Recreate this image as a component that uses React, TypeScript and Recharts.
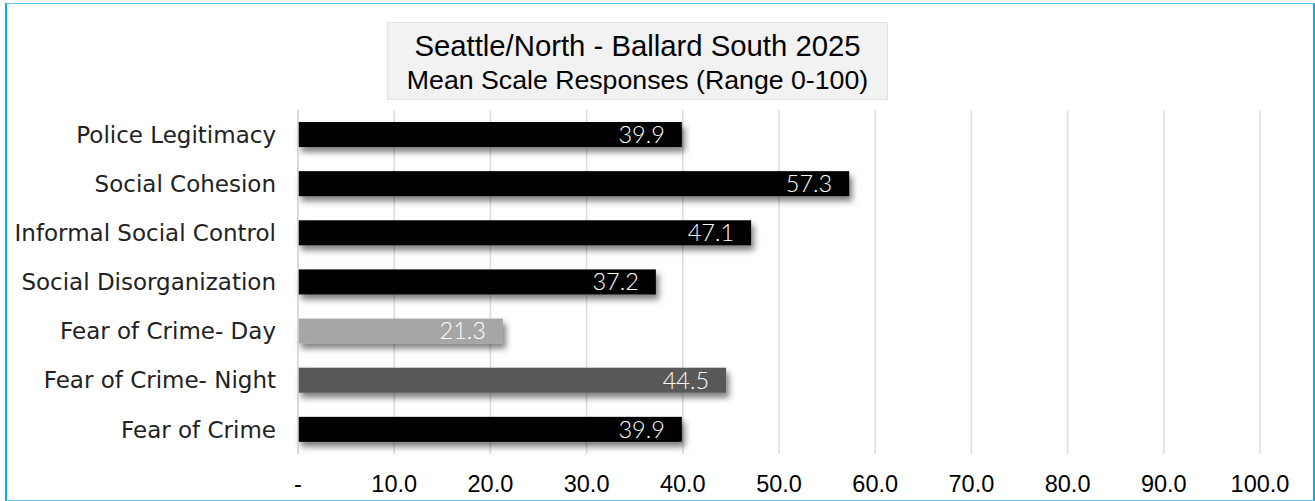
import { Bar, BarChart, CartesianGrid, Cell, LabelList, XAxis, YAxis } from "recharts";

const categories = [
  "Police Legitimacy",
  "Social Cohesion",
  "Informal Social Control",
  "Social Disorganization",
  "Fear of Crime- Day",
  "Fear of Crime- Night",
  "Fear of Crime",
];
const values = [39.9, 57.3, 47.1, 37.2, 21.3, 44.5, 39.9];
const barColors = ["#000000", "#000000", "#000000", "#000000", "#a6a6a6", "#595959", "#000000"];
const xTicks = [0, 10, 20, 30, 40, 50, 60, 70, 80, 90, 100];

const data = categories.map((name, i) => ({ name, value: values[i] }));

const W = 1315;
const H = 501;

function ShadowBar(props: any) {
  const { x, y, width, height, fill } = props;
  return <rect x={x} y={y} width={width} height={height} fill={fill} filter="url(#barShadow)" />;
}

export default function App() {
  return (
    <div style={{ position: "absolute", left: 0, top: 0, width: W, height: H, background: "#fff" }}>
      <BarChart
        width={W}
        height={H}
        data={data}
        layout="vertical"
        margin={{ top: 110, right: 55, bottom: 0, left: 0 }}
        barSize={25}
      >
        <defs>
          <filter id="barShadow" x="-5%" y="-30%" width="115%" height="190%">
            <feDropShadow dx="3" dy="5" stdDeviation="3" floodColor="#000" floodOpacity="0.5" />
          </filter>
        </defs>
        <CartesianGrid horizontal={false} stroke="#dcdcdc" strokeWidth={1.5} />
        <XAxis
          type="number"
          domain={[0, 100]}
          ticks={xTicks}
          height={47}
          axisLine={false}
          tickLine={false}
          tickMargin={15}
          tickFormatter={(v: number) => (v === 0 ? "-" : v.toFixed(1))}
          tick={{ fontSize: 23.5, fill: "#000", fontFamily: "Liberation Sans, Arial, sans-serif" }}
          interval={0}
        />
        <YAxis
          type="category"
          dataKey="name"
          width={298}
          axisLine={{ stroke: "#cfd8ea", strokeWidth: 1.5 }}
          tickLine={false}
          tickMargin={16}
          tick={{ fontSize: 23, fill: "#222", fontFamily: "DejaVu Sans, sans-serif" }}
          interval={0}
        />
        <Bar dataKey="value" isAnimationActive={false} shape={ShadowBar}>
          {data.map((d, i) => (
            <Cell key={d.name} fill={barColors[i]} />
          ))}
          <LabelList
            dataKey="value"
            position="insideRight"
            offset={17}
            formatter={(v: number) => v.toFixed(1)}
            style={{ fill: "#fff", fontSize: 23.5, fontFamily: "Lato, sans-serif", fontWeight: 300 }}
          />
        </Bar>
      </BarChart>

      <div
        style={{
          position: "absolute",
          left: 387,
          top: 22,
          width: 499,
          height: 76,
          background: "#f2f2f2",
          border: "1px solid #e2e2e2",
          fontFamily: "Liberation Sans, Arial, sans-serif",
          color: "#000",
          textAlign: "center",
          whiteSpace: "nowrap",
        }}
      >
        <div style={{ fontSize: 29.3, lineHeight: "32px", marginTop: 7 }}>Seattle/North - Ballard South 2025</div>
        <div style={{ fontSize: 26.7, lineHeight: "30px", marginTop: 3 }}>Mean Scale Responses (Range 0-100)</div>
      </div>

      <div
        style={{
          position: "absolute",
          left: 5,
          top: 3,
          width: 1306,
          height: 496,
          borderTop: "1px solid #5ec8f0",
          borderBottom: "2px solid #5ec8f0",
          borderLeft: "2px solid #00b0f0",
          borderRight: "4px solid #00b0f0",
          pointerEvents: "none",
        }}
      />
    </div>
  );
}
